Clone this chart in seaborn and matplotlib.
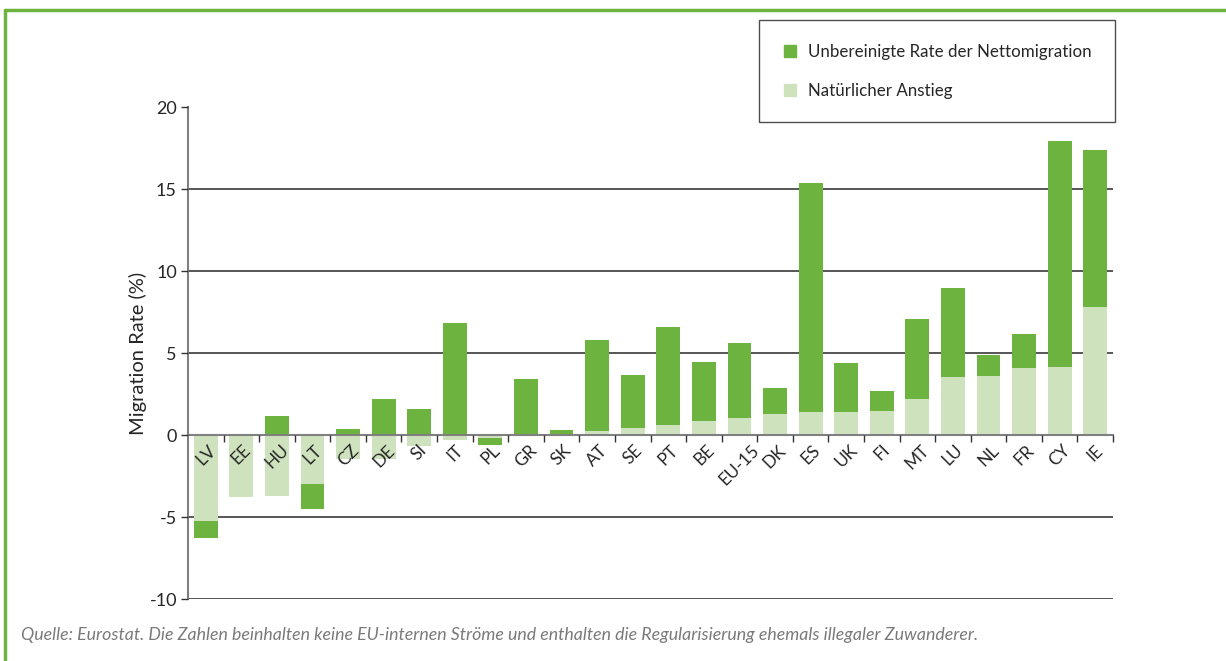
import matplotlib
matplotlib.use("Agg")
import matplotlib.pyplot as plt
from matplotlib.lines import Line2D
import numpy as np
import pandas as pd
import seaborn as sns

# --- data (rates in %) ---
countries = ["LV", "EE", "HU", "LT", "CZ", "DE", "SI", "IT", "PL", "GR", "SK", "AT", "SE",
             "PT", "BE", "EU-15", "DK", "ES", "UK", "FI", "MT", "LU", "NL", "FR", "CY", "IE"]
natural = [-5.25, -3.8, -3.74, -3.0, -1.48, -1.48, -0.69, -0.33, -0.2, 0.02, 0.02, 0.22, 0.41,
           0.59, 0.83, 1.02, 1.26, 1.38, 1.43, 1.48, 2.22, 3.56, 3.62, 4.11, 4.17, 7.83]
net_migration = [-1.0, 0.05, 1.14, -1.53, 0.35, 2.17, 1.57, 6.81, -0.41, 3.37, 0.26, 5.55, 3.23,
                 5.98, 3.6, 4.57, 1.59, 14.01, 2.99, 1.22, 4.87, 5.42, 1.28, 2.07, 13.78, 9.57]

legend_labels = ["Unbereinigte Rate der Nettomigration", "Natürlicher Anstieg"]
y_ticks = [-10, -5, 0, 5, 10, 15, 20]
caption = ("Quelle: Eurostat. Die Zahlen beinhalten keine EU-internen Ströme und enthalten "
           "die Regularisierung ehemals illegaler Zuwanderer.")

DARK = "#6db33f"
LIGHT = "#cfe2be"
FRAME = "#6db33f"

df = pd.DataFrame({"country": countries, "natural": natural, "migration": net_migration})
# migration stacks onto natural increase when both have the same sign, otherwise starts at 0
same_sign = np.sign(df["natural"]) == np.sign(df["migration"])
df["dark_end"] = np.where(same_sign, df["natural"] + df["migration"], df["migration"])

sns.set_style("white")
plt.rcParams["font.family"] = ["Lato", "DejaVu Sans"]
plt.rcParams["axes.unicode_minus"] = False

fig = plt.figure(figsize=(12.26, 6.61), dpi=100)
ax = fig.add_axes([188 / 1226, 1 - 599 / 661, (1113 - 188) / 1226, (599 - 107) / 661])
ax.set_axisbelow(False)  # tick labels drawn over the bars, as in the original

for y in [-10, -5, 5, 10, 15]:
    ax.axhline(y, color="#3a3a3a", lw=1.2, zorder=0.5)

sns.barplot(data=df, x="country", y="dark_end", color=DARK, width=0.67,
            saturation=1, linewidth=0, ax=ax, zorder=1.1)
sns.barplot(data=df, x="country", y="natural", color=LIGHT, width=0.67,
            saturation=1, linewidth=0, ax=ax, zorder=1.2)

ax.set_xlim(-0.5, len(countries) - 0.5)
ax.set_ylim(-10, 20)
ax.set_yticks(y_ticks)
ax.set_yticklabels([str(t) for t in y_ticks], fontsize=13)
ax.set_ylabel("Migration Rate (%)", fontsize=14.5, labelpad=2)
ax.set_xlabel("")

for s in ["top", "right"]:
    ax.spines[s].set_visible(False)
ax.spines["left"].set_color("#808080")
ax.spines["left"].set_linewidth(1.5)
ax.spines["bottom"].set_position(("data", 0))
ax.spines["bottom"].set_color("#808080")
ax.spines["bottom"].set_linewidth(1.5)

ax.tick_params(axis="y", left=True, length=5, width=1, color="#333333", pad=3)
ax.set_xticks(range(len(countries)))
ax.set_xticklabels(countries, rotation=45, ha="center", va="top", fontsize=12.5)
ax.set_xticks(np.arange(0.5, len(countries), 1), minor=True)
ax.tick_params(axis="x", which="major", bottom=False, length=0, pad=5)
ax.tick_params(axis="x", which="minor", bottom=True, length=5, width=1, color="#333333")

handles = [Line2D([], [], marker="s", ls="", markersize=9, color=DARK),
           Line2D([], [], marker="s", ls="", markersize=9, color=LIGHT)]
leg = fig.legend(handles, legend_labels, loc="upper left", bbox_to_anchor=(759 / 1226, 1 - 20 / 661),
                 frameon=True, fancybox=False, fontsize=12.2, handlelength=0.8,
                 handletextpad=0.7, labelspacing=1.35, borderpad=1.4, borderaxespad=0)
leg.get_frame().set_edgecolor("#222222")
leg.get_frame().set_linewidth(1.0)

fig.text(21 / 1226, 1 - 635 / 661, caption, fontsize=12.8, style="italic", color="#7a7a7a",
         va="center", ha="left")

# green frame along top and left edge
fig.add_artist(Line2D([5 / 1226, 1.0], [1 - 10 / 661, 1 - 10 / 661], color=FRAME, lw=2.5,
                      transform=fig.transFigure))
fig.add_artist(Line2D([5 / 1226, 5 / 1226], [1 - 10 / 661, 0], color=FRAME, lw=2.5,
                      transform=fig.transFigure))

fig.savefig("out.png", dpi=100)
